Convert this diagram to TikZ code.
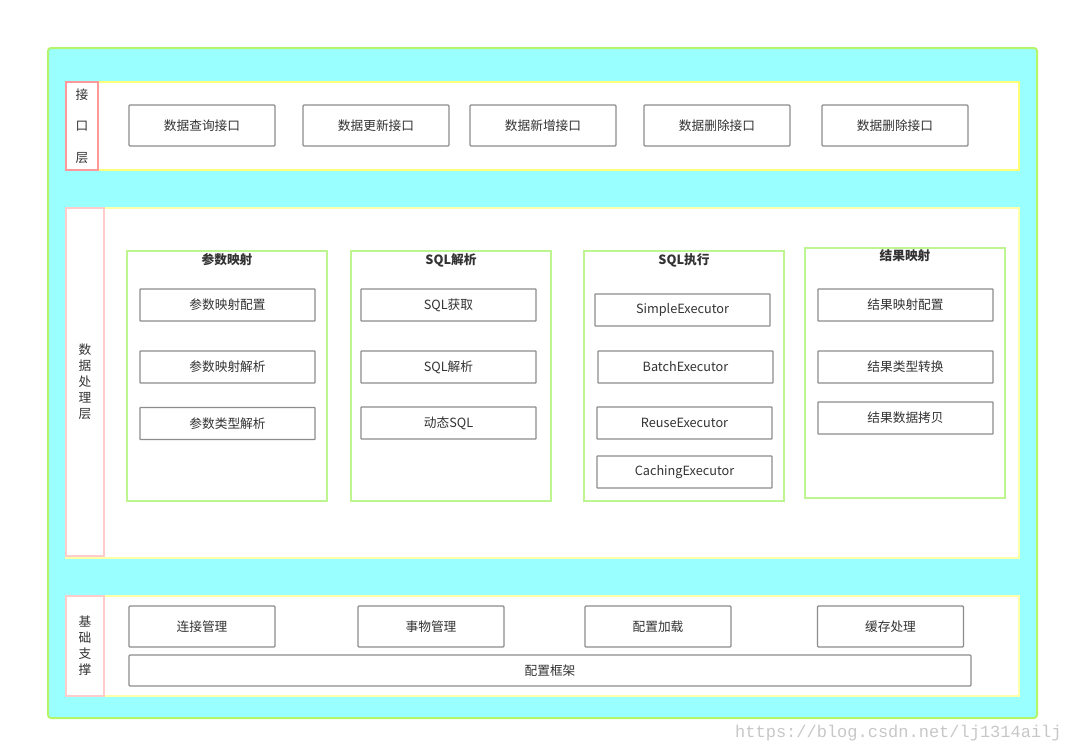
\documentclass[tikz,border=0pt]{standalone}
\usepackage{fontspec}
\setmainfont{Noto Sans CJK SC}
\newfontfamily\wmfont{Liberation Mono}
\usetikzlibrary{positioning}
\definecolor{bgcyan}{HTML}{99FFFF}
\definecolor{outergreen}{HTML}{B5F56A}
\definecolor{layyellow}{HTML}{FFFF77}
\definecolor{layyellowlt}{HTML}{FFFFA8}
\definecolor{lblpink}{HTML}{FF9999}
\definecolor{lblpinklt}{HTML}{FFCCCC}
\definecolor{grpgreen}{HTML}{BDF590}
\definecolor{boxgray}{HTML}{8C8C8C}
\definecolor{txtgray}{HTML}{333333}

\begin{document}
\begin{tikzpicture}[x=1pt,y=-1pt,
    every node/.style={font=\fontsize{12.7}{15}\selectfont,text=txtgray,inner sep=0pt},
    layer/.style={draw=layyellowlt,line width=1.8pt,fill=white,minimum width=953pt},
    lblbox/.style={draw=lblpinklt,line width=1.6pt,fill=white,minimum width=38pt,align=center},
    grpbox/.style={draw=grpgreen,line width=1.1pt,fill=white,minimum width=200pt,minimum height=250pt},
    grptitle/.style={font=\fontsize{12.7}{15}\selectfont\bfseries},
    ifbox/.style={draw=boxgray,line width=1.3pt,rounded corners=1pt,fill=white,minimum width=146pt,minimum height=41pt},
    itbox/.style={draw=boxgray,line width=1.2pt,rounded corners=0.5pt,fill=white,minimum width=175pt,minimum height=32pt}]
  \useasboundingbox (0,0) rectangle (1069,750);
  \node[draw=outergreen,line width=2pt,rounded corners=3pt,fill=bgcyan,minimum width=989pt,minimum height=670pt] (outer) at (542.5,383) {};

  \node[layer,draw=layyellow,minimum height=88pt] (iflayer) at (542.5,126) {};
  \node[lblbox,draw=lblpink,minimum width=32pt,minimum height=88pt,font=\fontsize{12.7}{31.5}\selectfont] (iflbl) at (82,126) {接\\口\\层};
  \node[ifbox] (q1) at (202,125.5) {数据查询接口};
  \node[ifbox] (q2) at (376,125.5) {数据更新接口};
  \node[ifbox] (q3) at (543,125.5) {数据新增接口};
  \node[ifbox] (q4) at (717,125.5) {数据删除接口};
  \node[ifbox] (q5) at (895,125.5) {数据删除接口};

  \node[layer,minimum height=350pt] (dplayer) at (542.5,383) {};
  \node[lblbox,minimum height=348pt,font=\fontsize{12.7}{16}\selectfont] (dplbl) at (85,382) {数\\据\\处\\理\\层};

  \node[grpbox] (pm) at (227,376) {};
  \node[grptitle,below=3pt of pm.north] (pmt) {参数映射};
  \node[itbox] (pm1) at (227.5,305) {参数映射配置};
  \node[itbox] (pm2) at (227.5,367) {参数映射解析};
  \node[itbox] (pm3) at (227.5,423.5) {参数类型解析};

  \node[grpbox] (sp) at (451,376) {};
  \node[grptitle,below=3pt of sp.north] (spt) {SQL解析};
  \node[itbox] (sp1) at (448.5,305) {SQL获取};
  \node[itbox] (sp2) at (448.5,367) {SQL解析};
  \node[itbox] (sp3) at (448.5,423) {动态SQL};

  \node[grpbox] (se) at (684,376) {};
  \node[grptitle,below=3pt of se.north] (set) {SQL执行};
  \node[itbox] (se1) at (682.5,310) {SimpleExecutor};
  \node[itbox] (se2) at (685.5,367) {BatchExecutor};
  \node[itbox] (se3) at (684.5,423) {ReuseExecutor};
  \node[itbox] (se4) at (684.5,472) {CachingExecutor};

  \node[grpbox] (rm) at (905,373) {};
  \node[grptitle,below=2pt of rm.north] (rmt) {结果映射};
  \node[itbox] (rm1) at (905.5,305) {结果映射配置};
  \node[itbox] (rm2) at (905.5,367) {结果类型转换};
  \node[itbox] (rm3) at (905.5,418) {结果数据拷贝};

  \node[layer,minimum height=100pt] (bslayer) at (542.5,646) {};
  \node[lblbox,minimum height=100pt,font=\fontsize{12.7}{16}\selectfont] (bslbl) at (85,646) {基\\础\\支\\撑};
  \node[ifbox] (b1) at (202,626.5) {连接管理};
  \node[ifbox] (b2) at (431,626.5) {事物管理};
  \node[ifbox] (b3) at (658,626.5) {配置加载};
  \node[ifbox] (b4) at (890.5,626.5) {缓存处理};
  \node[ifbox,minimum width=842pt,minimum height=31pt] (b5) at (550,670.5) {配置框架};

  \node[font=\wmfont\fontsize{17}{19}\selectfont,text=black!22,anchor=west] (wm) at (735,733) {https://blog.csdn.net/lj1314ailj};
\end{tikzpicture}
\end{document}
